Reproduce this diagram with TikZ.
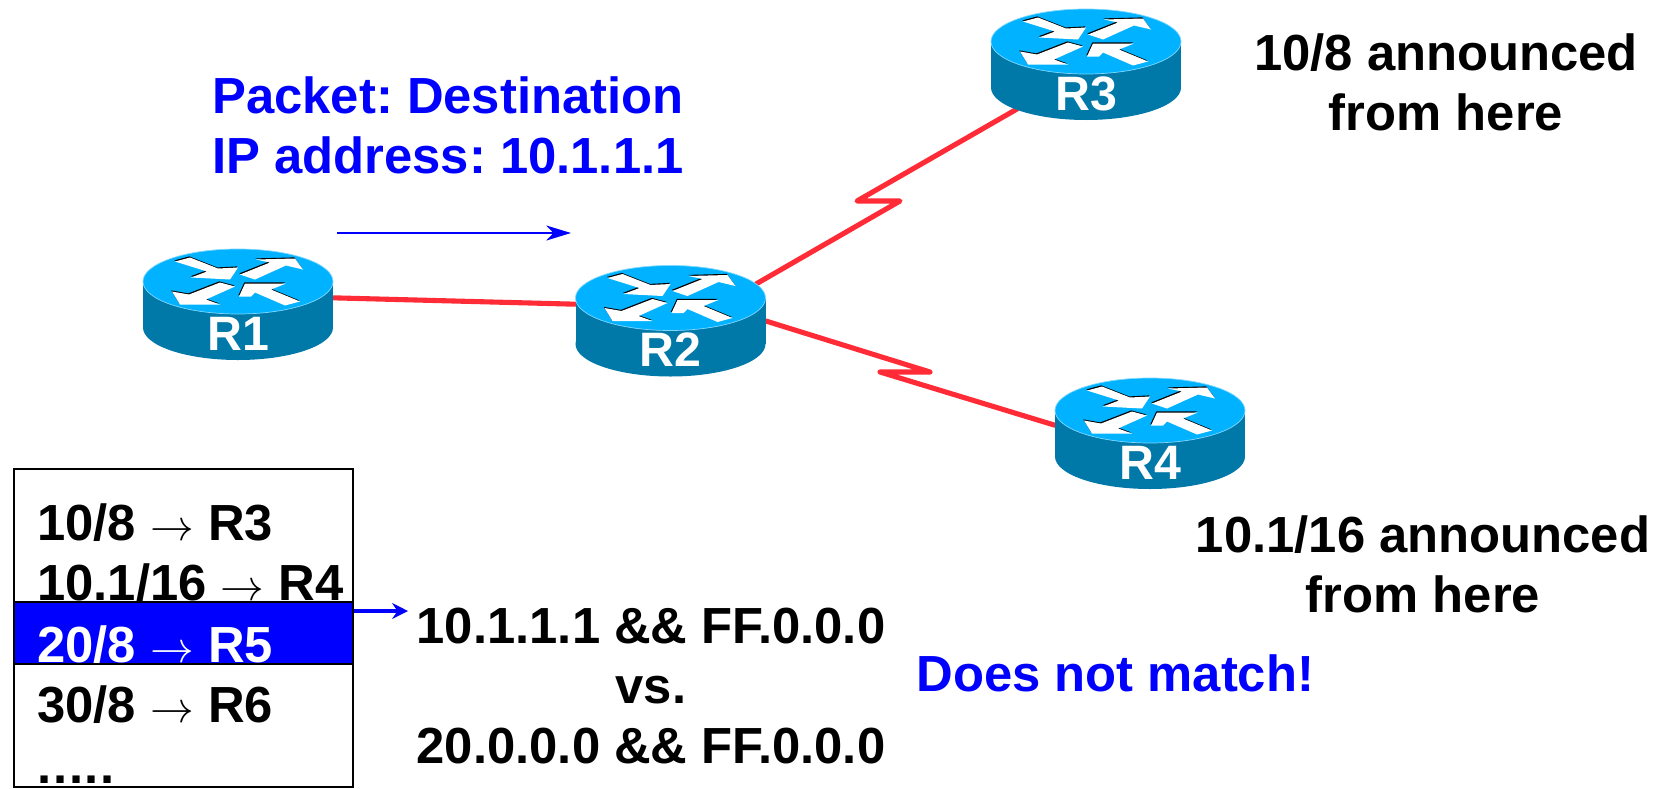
\documentclass[tikz,border=0pt]{standalone}
\usepackage{fontspec}
\setmainfont{Liberation Sans}
\usepackage{tikz}
\usetikzlibrary{backgrounds}
\usetikzlibrary{arrows.meta}
\definecolor{routertop}{HTML}{00B2FF}
\definecolor{routerbody}{HTML}{0078A8}
\definecolor{routeredge}{HTML}{7FD8FF}
\definecolor{linkred}{HTML}{FF2B36}
\definecolor{tableblue}{HTML}{0000FF}
\newcommand{\routerarrows}{
  (-63,-20) -- (-48,-24) -- (-20,-13) -- (0,-14) -- (-8,-2) -- (-47,-4) -- (-31,-10) -- cycle
  (2,-7) -- (32,-19) -- (18,-22) -- (57,-23) -- (65,-12) -- (48,-16) -- (17,-2) -- cycle
  (-66,10) -- (-49,13) -- (-18,1) -- (-3,5) -- (-32,18) -- (-18,23) -- (-58,23) -- cycle
  (1,15) -- (7,2) -- (48,2) -- (33,8) -- (62,20) -- (47,24) -- (17,11) -- (13,15) -- cycle
}
\newcommand{\bigfont}{\fontsize{28.9pt}{34pt}\selectfont\bfseries\frenchspacing}
\newcommand{\tablearrow}{{\fontsize{32pt}{32pt}\selectfont$\rightarrow$}}

\begin{document}
\begin{tikzpicture}[x=0.02cm,y=-0.02cm]

        \tikzstyle{routerbox} = [minimum width=3.8cm, minimum height=2.22cm, inner sep=0pt]
        \tikzstyle{routername} = [text=white, font=\fontsize{27.5pt}{27.5pt}\selectfont\bfseries]
        \tikzstyle{biglabel} = [font=\bigfont, align=center, inner sep=0pt]
        \tikzstyle{bluelabel} = [biglabel, text=tableblue]
        \tikzstyle{tableline} = [font=\bigfont, anchor=base west, inner sep=0pt]
        \tikzstyle{link} = [linkred, line width=2.9pt, line join=round, line cap=round]
        \tikzstyle{bluearrow} = [tableblue, line width=1.4pt, -{Stealth[length=14pt, width=8.5pt, inset=4pt]}]
        \tikzstyle{rowarrow} = [tableblue, line width=2pt, -{Stealth[length=9pt, width=9pt, inset=3pt]}]

        \useasboundingbox (0,0) rectangle (1666,788);

        \foreach \name/\x/\y in {R1/238/281.5, R2/670.5/298, R3/1086/41.5, R4/1150/410.5}
        {
                \begin{scope}[shift={(\x,\y)}]
                        \fill [routerbody] (0,46) ellipse [x radius=95, y radius=32.5];
                        \fill [routerbody] (-95,0) rectangle (95,46);
                        \draw [routertop, fill=routertop, draw=routeredge, line width=0.4pt]
                                (0,0) ellipse [x radius=95, y radius=32.5];
                        \fill [black, shift={(-0.7,-1.1)}] \routerarrows;
                        \fill [white] \routerarrows;
                        \node [routerbox](\name) at (0,23) {};
                        \node [routername](\name label) at (0,52) {\name};
                \end{scope}
        }

        \coordinate (R2up) at (756,284);
        \coordinate (R3down) at (1017,109);
        \coordinate (zig3a) at (900,201);
        \coordinate (zig3b) at (857,201);
        \coordinate (zig4a) at (930,372);
        \coordinate (zig4b) at (880,372);

        \begin{scope}[on background layer]
                \draw [link] (R1.4) -- (R2.170);
                \draw [link] (R2up) -- (zig3a) -- (zig3b) -- (R3down);
                \draw [link] (R2.east) -- (zig4a) -- (zig4b) -- (R4.175);
        \end{scope}

        \coordinate (flowstart) at (337,233);
        \coordinate (flowend) at (571,233);
        \draw [bluearrow] (flowstart) -- (flowend);

        \node [bluelabel, align=left, anchor=base west](packet) at (212,173) {Packet: Destination\\IP address: 10.1.1.1};
        \node [biglabel, anchor=base](from3) at (1446,130) {10/8 announced\\from here};
        \node [biglabel, anchor=base](from4) at (1423,612) {10.1/16 announced\\from here};
        \node [bluelabel, anchor=base west](nomatch) at (916,691) {Does not match!};
        \node [biglabel, anchor=base](compare) at (651,763) {10.1.1.1 \&\& FF.0.0.0\\vs.\\20.0.0.0 \&\& FF.0.0.0};

        % table
        \node [tableline](row1) at (37,540) {10/8 \tablearrow{} R3};
        \node [tableline](row2) at (37,600) {10.1/16 \tablearrow{} R4};
        \node [fill=tableblue, draw=black, line width=1pt, minimum width=6.78cm, minimum height=1.24cm, inner sep=0pt](rowblue) at (183.5,633) {};
        \node [tableline, text=white](row3) at (37,662) {20/8 \tablearrow{} R5};
        \node [tableline](row4) at (37,722) {30/8 \tablearrow{} R6};
        \node [tableline](row5) at (37,783) {.\kern1pt.\kern1pt.\kern1pt.\kern1pt.};
        \node [draw=black, line width=1pt, minimum width=6.78cm, minimum height=6.36cm, inner sep=0pt](table) at (183.5,628) {};

        \coordinate (rowout) at (408,611);
        \draw [rowarrow] (rowblue.east |- rowout) -- (rowout);

\end{tikzpicture}
\end{document}
